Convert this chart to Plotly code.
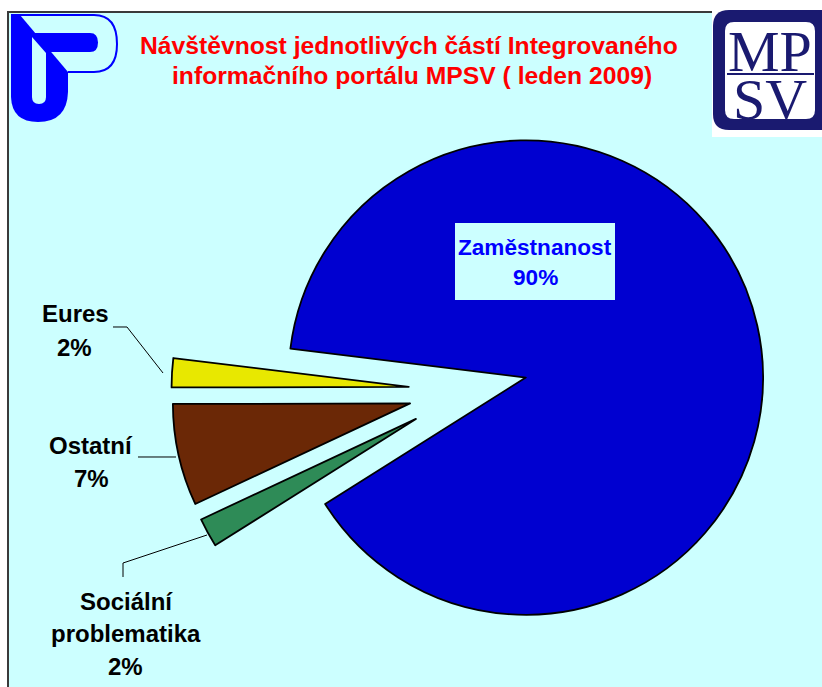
import plotly.graph_objects as go

W, H = 822, 687

# ---- data ----
labels = ["Zaměstnanost", "Sociální problematika", "Ostatní", "Eures"]
values = [90, 2, 7, 2]
pct_text = ["90%", "2%", "7%", "2%"]
colors = ["#0000d0", "#2e8b57", "#6b2806", "#e8e800"]
title_lines = ["Návštěvnost jednotlivých částí Integrovaného",
               "informačního portálu MPSV ( leden 2009)"]

BG = "#ccffff"
FONT = "Liberation Sans, Arial, sans-serif"


def px(x):
    return x / W


def py(y):
    return 1 - y / H


def path(cmds):
    out = []
    for c in cmds:
        op = c[0]
        if op == "Z":
            out.append("Z")
            continue
        out.append(op + " ".join(f"{px(x):.5f},{py(y):.5f}" for x, y in c[1:]))
    return " ".join(out)


def rrect(x0, y0, x1, y1, r):
    return path([
        ("M", (x0 + r, y0)), ("L", (x1 - r, y0)), ("Q", (x1, y0), (x1, y0 + r)),
        ("L", (x1, y1 - r)), ("Q", (x1, y1), (x1 - r, y1)), ("L", (x0 + r, y1)),
        ("Q", (x0, y1), (x0, y1 - r)), ("L", (x0, y0 + r)), ("Q", (x0, y0), (x0 + r, y0)), ("Z",)
    ])


fig = go.Figure()
fig.add_trace(go.Pie(
    labels=labels, values=values, sort=False, direction="clockwise", rotation=-83,
    pull=[0.25, 0.25, 0.25, 0.25],
    marker=dict(colors=colors, line=dict(color="#000000", width=1.8)),
    textinfo="none", hoverinfo="label+percent", showlegend=False,
    domain=dict(x=[0.1993, 0.9393], y=[0.0, 0.8632]),
))

shapes = []
# background panel
shapes.append(dict(type="rect", xref="paper", yref="paper", x0=px(8), x1=px(900), y0=py(12), y1=py(800),
                   fillcolor=BG, line=dict(color="#3a3a3a", width=2), layer="below"))
# left logo
blue = "#0000ff"
shapes.append(dict(type="path", xref="paper", yref="paper", layer="below", fillcolor=blue, line=dict(width=0),
                   path=path([("M", (11, 15)), ("L", (20, 15)), ("L", (68, 72)), ("L", (68, 92)),
                              ("Q", (67, 122), (38, 122)), ("Q", (12, 122), (11, 97)), ("Z",)])))
shapes.append(dict(type="path", xref="paper", yref="paper", layer="below", fillcolor=blue, line=dict(width=0),
                   path=path([("M", (31, 33)), ("L", (90, 33)), ("Q", (98, 33), (98, 42.5)),
                              ("Q", (98, 52), (90, 52)), ("L", (48, 52)), ("Z",)])))
shapes.append(dict(type="path", xref="paper", yref="paper", layer="below", fillcolor=BG, line=dict(width=0),
                   path=path([("M", (32, 37)), ("L", (46, 53)), ("L", (46, 97)), ("Q", (46, 104), (39, 104)),
                              ("Q", (32, 104), (32, 97)), ("Z",)])))
shapes.append(dict(type="path", xref="paper", yref="paper", layer="below", line=dict(color=blue, width=2),
                   path=path([("M", (11, 15)), ("L", (94, 15)), ("Q", (117, 15), (117, 44)),
                              ("Q", (117, 72), (94, 72)), ("L", (68, 72))])))
# right logo
navy = "#1a1a70"
shapes.append(dict(type="rect", xref="paper", yref="paper", x0=px(712), x1=px(830), y0=py(0), y1=py(137),
                   fillcolor="#ffffff", line=dict(width=0), layer="below"))
shapes.append(dict(type="path", xref="paper", yref="paper", layer="below", fillcolor=navy, line=dict(width=0),
                   path=rrect(713, 10, 840, 130, 16)))
shapes.append(dict(type="path", xref="paper", yref="paper", layer="below", fillcolor="#ffffff", line=dict(width=0),
                   path=rrect(725, 22, 815, 119, 9)))
shapes.append(dict(type="line", xref="paper", yref="paper", layer="below", x0=px(727), x1=px(814),
                   y0=py(74), y1=py(74), line=dict(color=navy, width=2)))
# leader lines
lc = dict(color="#000000", width=1)
shapes.append(dict(type="path", xref="paper", yref="paper", layer="below", line=lc,
                   path=path([("M", (113, 327)), ("L", (127, 327)), ("L", (163, 373))])))
shapes.append(dict(type="path", xref="paper", yref="paper", layer="below", line=lc,
                   path=path([("M", (138, 457)), ("L", (176, 457))])))
shapes.append(dict(type="path", xref="paper", yref="paper", layer="below", line=lc,
                   path=path([("M", (123, 577)), ("L", (123, 563)), ("L", (207, 535))])))
# label box for main slice
shapes.append(dict(type="rect", xref="paper", yref="paper", x0=px(455), x1=px(615), y0=py(223), y1=py(300),
                   fillcolor=BG, line=dict(width=0), layer="above"))

ann = []


def text(x, y, s, size=24, color="#000000", family=FONT, bold=True):
    ann.append(dict(x=px(x), y=py(y), xref="paper", yref="paper", text=(f"<b>{s}</b>" if bold else s),
                    showarrow=False, xanchor="center", yanchor="middle",
                    font=dict(family=family, size=size, color=color)))


text(409, 45, title_lines[0], size=24.7, color="#ff0000")
text(412, 76, title_lines[1], size=24.7, color="#ff0000")
text(770, 52, "MP", size=58, color=navy, family="Liberation Serif, Times New Roman, serif", bold=False)
text(770, 99, "SV", size=58, color=navy, family="Liberation Serif, Times New Roman, serif", bold=False)

text(535, 247, labels[0], size=22.6, color="#0000ff")
text(535, 277, pct_text[0], size=22.6, color="#0000ff")
text(75, 313, labels[3])
text(74, 347, pct_text[3])
text(91, 445, labels[2])
text(91, 478, pct_text[2])
soc = labels[1].split(" ")
text(126, 601, soc[0])
text(126, 633, soc[1])
text(125, 666, pct_text[1])

fig.update_layout(
    width=W, height=H, margin=dict(l=0, r=0, t=0, b=0),
    paper_bgcolor="#ffffff", plot_bgcolor="#ffffff",
    shapes=shapes, annotations=ann, showlegend=False,
)

fig.write_html("out.html", config={"displayModeBar": False},
               post_script="document.body.style.margin='0';document.body.style.padding='0';"
                           "document.body.style.overflow='hidden';")
